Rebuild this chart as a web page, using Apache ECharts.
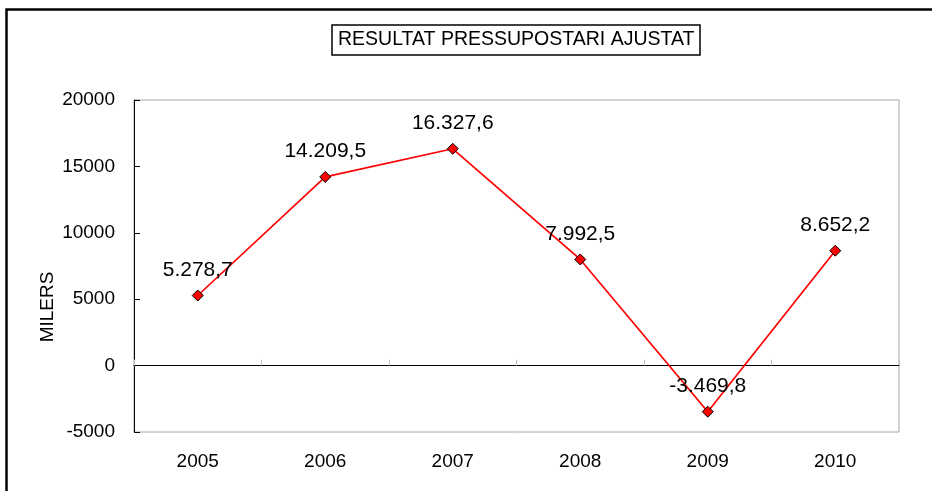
<!DOCTYPE html>
<html>
<head>
<meta charset="utf-8">
<script src="https://cdn.jsdelivr.net/npm/echarts@6/dist/echarts.min.js"></script>
<style>
  html, body { margin: 0; padding: 0; background: #fff; }
  #chart { width: 932px; height: 491px; }
</style>
</head>
<body>
<div id="chart"></div>
<script>
// Budget result by year (thousands)
const years = ['2005', '2006', '2007', '2008', '2009', '2010'];
const resultValues = [5278.7, 14209.5, 16327.6, 7992.5, -3469.8, 8652.2];
const yTicks = { min: -5000, max: 20000, step: 5000 };
const titleText = 'RESULTAT PRESSUPOSTARI AJUSTAT';
const axisName = 'MILERS';

const FONT = '"Liberation Sans", Arial, sans-serif';

// 12345.6 -> "12.345,6"
function fmt(v) {
  const neg = v < 0;
  const parts = Math.abs(v).toFixed(1).split('.');
  const intPart = parts[0].replace(/\B(?=(\d{3})+(?!\d))/g, '.');
  return (neg ? '-' : '') + intPart + ',' + parts[1];
}

const chart = echarts.init(document.getElementById('chart'), null, { renderer: 'canvas' });

chart.setOption({
  animation: false,
  backgroundColor: '#ffffff',
  title: {
    text: titleText,
    left: 332,
    top: 25,
    padding: [5, 6, 5, 6],
    borderColor: '#000',
    borderWidth: 1.5,
    textStyle: { fontFamily: FONT, fontSize: 19.5, fontWeight: 'normal', color: '#000' }
  },
  graphic: [
    {
      type: 'rect',
      z: -1,
      shape: { x: 6.5, y: 9.5, width: 1000, height: 600 },
      style: { fill: 'none', stroke: '#000', lineWidth: 2.5 }
    },
    {
      type: 'text',
      x: 48,
      y: 307,
      rotation: Math.PI / 2,
      style: {
        text: axisName,
        fontFamily: FONT,
        fontSize: 19,
        fill: '#000',
        align: 'center',
        verticalAlign: 'middle'
      }
    }
  ],
  grid: {
    left: 134,
    right: 33,
    top: 100,
    bottom: 59,
    show: true,
    borderColor: '#a6a6a6',
    borderWidth: 1,
    backgroundColor: 'transparent'
  },
  xAxis: [
    {
      type: 'category',
      data: years,
      boundaryGap: true,
      position: 'bottom',
      axisLine: { show: false, onZero: false },
      axisTick: { show: false },
      axisLabel: { fontFamily: FONT, fontSize: 19, color: '#000', margin: 20 },
      splitLine: { show: false }
    },
    {
      type: 'category',
      data: years,
      boundaryGap: true,
      position: 'bottom',
      axisLine: { show: true, onZero: true, lineStyle: { color: '#000', width: 1 } },
      axisTick: { show: true, inside: true, length: 6, lineStyle: { color: '#c0c0c0', width: 1 } },
      axisLabel: { show: false },
      splitLine: { show: false }
    }
  ],
  yAxis: {
    type: 'value',
    min: yTicks.min,
    max: yTicks.max,
    interval: yTicks.step,
    axisLine: { show: true, lineStyle: { color: '#000', width: 1 } },
    axisTick: { show: true, inside: true, length: 6, lineStyle: { color: '#000' } },
    axisLabel: {
      fontFamily: FONT, fontSize: 19, color: '#000', margin: 19,
      formatter: v => String(v)
    },
    splitLine: { show: false }
  },
  series: [
    {
      type: 'line',
      xAxisIndex: 0,
      data: resultValues,
      symbol: 'diamond',
      symbolSize: 11,
      lineStyle: { color: '#ff0000', width: 1.7 },
      itemStyle: { color: '#ff0000', borderColor: '#000', borderWidth: 1 },
      label: {
        show: true,
        position: 'top',
        distance: 9,
        fontFamily: FONT,
        fontSize: 21,
        color: '#000',
        formatter: p => fmt(p.value)
      },
      z: 5
    }
  ]
});
</script>
</body>
</html>
